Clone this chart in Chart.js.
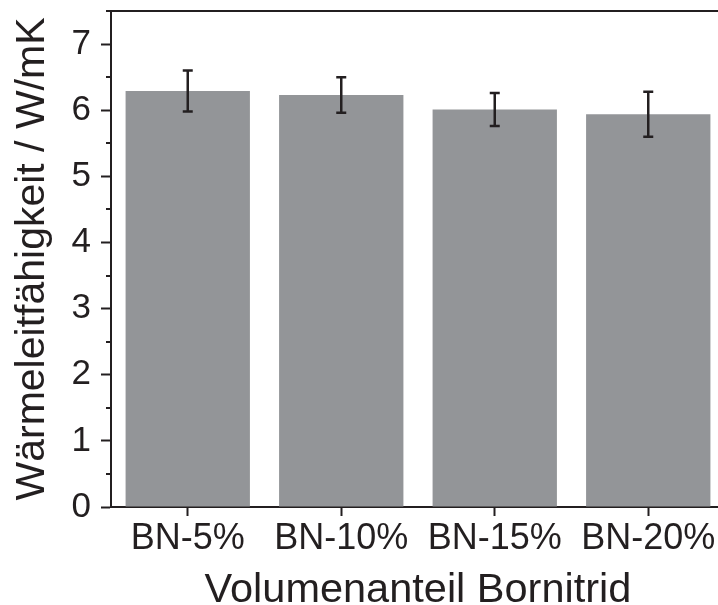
<!DOCTYPE html>
<html>
<head>
<meta charset="utf-8">
<script src="https://cdn.jsdelivr.net/npm/chart.js@4/dist/chart.umd.min.js"></script>
<style>
  html, body { margin: 0; padding: 0; background: #fff; overflow: hidden; }
  #wrap { width: 730px; height: 605px; position: relative; }
</style>
</head>
<body>
<div id="wrap"><canvas id="c"></canvas></div>
<script>
const categories = ['BN-5%', 'BN-10%', 'BN-15%', 'BN-20%'];
const values = [6.29, 6.23, 6.01, 5.94];
const errors = [0.31, 0.27, 0.25, 0.34];
const yTicks = [0, 1, 2, 3, 4, 5, 6, 7];
const yMinorTicks = [0.5, 1.5, 2.5, 3.5, 4.5, 5.5, 6.5, 7.5];
const yMin = 0, yMax = 7.5;
const xTitle = 'Volumenanteil Bornitrid';
const yTitle = 'Wärmeleitfähigkeit / W/mK';

const INK = '#231f20';
const FONT = "'Liberation Sans', Arial, Helvetica, sans-serif";

const errorBarPlugin = {
  id: 'errorBars',
  afterDatasetsDraw(chart) {
    const { ctx, scales: { x, y } } = chart;
    ctx.save();
    ctx.strokeStyle = INK;
    ctx.lineWidth = 2.5;
    values.forEach((v, i) => {
      const px = x.getPixelForValue(i);
      const top = y.getPixelForValue(v + errors[i]);
      const bot = y.getPixelForValue(v - errors[i]);
      ctx.beginPath();
      ctx.moveTo(px, top); ctx.lineTo(px, bot);
      ctx.moveTo(px - 5, top); ctx.lineTo(px + 5, top);
      ctx.moveTo(px - 5, bot); ctx.lineTo(px + 5, bot);
      ctx.stroke();
    });
    ctx.restore();
  }
};

const minorTickPlugin = {
  id: 'minorTicks',
  afterDraw(chart) {
    const { ctx, scales: { y } } = chart;
    ctx.save();
    ctx.strokeStyle = INK;
    ctx.lineWidth = 2;
    yMinorTicks.forEach(v => {
      const py = Math.round(y.getPixelForValue(v));
      ctx.beginPath();
      ctx.moveTo(y.right - 5, py);
      ctx.lineTo(y.right, py);
      ctx.stroke();
    });
    ctx.restore();
  }
};

function noPad(s) { s.paddingTop = 0; s.paddingBottom = 0; s.paddingLeft = 0; s.paddingRight = 0; }

new Chart(document.getElementById('c'), {
  type: 'bar',
  data: {
    labels: categories,
    datasets: [{
      data: values,
      backgroundColor: '#939598',
      borderWidth: 0,
      barPercentage: 0.81,
      categoryPercentage: 1.0
    }]
  },
  options: {
    responsive: true,
    maintainAspectRatio: false,
    animation: false,
    layout: { padding: { top: 11, right: 5, left: 0, bottom: 0 } },
    plugins: { legend: { display: false }, tooltip: { enabled: false } },
    scales: {
      x: {
        position: 'bottom',
        grid: { display: true, drawOnChartArea: false, drawTicks: true, tickLength: 9, tickWidth: 2, tickColor: INK, offset: false },
        border: { display: true, color: INK, width: 2 },
        ticks: { color: INK, font: { family: FONT, size: 36 }, padding: 1, maxRotation: 0, autoSkip: false },
        title: { display: true, text: xTitle, color: INK, font: { family: FONT, size: 41.5, lineHeight: 0.7 }, padding: { top: 0, bottom: 0 } },
        afterFit: s => { s.height = 98; noPad(s); }
      },
      x2: {
        position: 'top',
        type: 'category',
        grid: { display: false },
        border: { display: true, color: INK, width: 2 },
        ticks: { display: false },
        afterFit: s => { s.height = 0; noPad(s); }
      },
      y: {
        min: yMin, max: yMax,
        grid: { display: true, drawOnChartArea: false, drawTicks: true, tickLength: 10, tickWidth: 2, tickColor: INK },
        border: { display: true, color: INK, width: 2 },
        ticks: { color: INK, font: { family: FONT, size: 35 }, padding: 10 },
        afterBuildTicks: s => { s.ticks = yTicks.map(v => ({ value: v })); },
        title: { display: true, text: yTitle, color: INK, font: { family: FONT, size: 41, lineHeight: 1.2 }, padding: { top: 8, bottom: 0 } },
        afterFit: s => { s.width = 111; noPad(s); }
      }
    }
  },
  plugins: [errorBarPlugin, minorTickPlugin]
});
</script>
</body>
</html>
